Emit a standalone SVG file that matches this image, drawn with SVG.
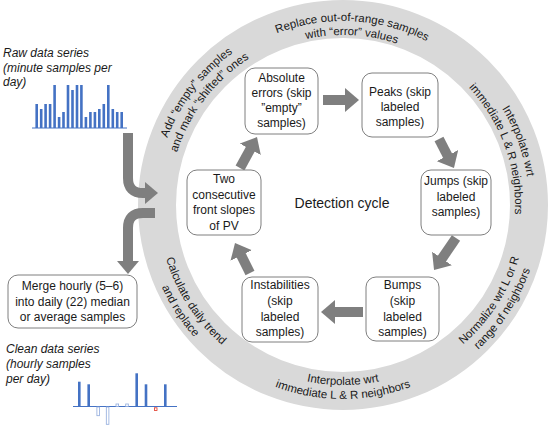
<svg xmlns="http://www.w3.org/2000/svg" xmlns:xlink="http://www.w3.org/1999/xlink" width="550" height="429" viewBox="0 0 550 429">
<style>
text{font-family:"Liberation Sans",Arial,sans-serif;fill:#1a1a1a}
.n{font-size:12px;text-anchor:middle}
.r{font-size:11.5px}
.i{font-size:12px;font-style:italic}
.box{fill:#fff;stroke:#7f7f7f;stroke-width:1}
.arr{stroke:#7f7f7f;stroke-width:10;fill:none;marker-end:url(#ah)}
.big{stroke:#7f7f7f;stroke-width:10;fill:none;marker-end:url(#ah2)}
.bar{fill:#4472c4}
.hb{fill:#fff;stroke:#8faadc;stroke-width:0.8}
</style>
<defs>
<marker id="ah" markerUnits="userSpaceOnUse" markerWidth="14" markerHeight="24" refX="1" refY="12" orient="auto"><path d="M0,0 L14,12 L0,24 z" fill="#7f7f7f"/></marker>
<marker id="ah2" markerUnits="userSpaceOnUse" markerWidth="13" markerHeight="22" refX="1" refY="11" orient="auto"><path d="M0,0 L13,11 L0,22 z" fill="#7f7f7f"/></marker>
<path id="t1" d="M188.7,104.8 A184,184 0 0 1 506.9,121.5"/>
<path id="t2" d="M200.4,112.4 A170,170 0 0 1 494.5,127.8"/>
<path id="l1" d="M169.3,276.9 A188,188 0 0 1 367.5,18.6"/>
<path id="l2" d="M182.2,271.6 A174,174 0 0 1 365.7,32.5"/>
<path id="r1" d="M375.3,21.8 A186,186 0 0 1 485.5,324.6"/>
<path id="r2" d="M372.9,35.6 A172,172 0 0 1 474.8,315.6"/>
<path id="br1" d="M333.4,388.7 A184,184 0 0 0 506.9,121.5"/>
<path id="br2" d="M332.6,402.7 A198,198 0 0 0 519.4,115.1"/>
<path id="b1" d="M187.1,295 A180,180 0 0 0 498.9,295"/>
<path id="b2" d="M175,302 A194,194 0 0 0 511,302"/>
<path id="ll1" d="M178.2,121 A185,185 0 0 0 352.7,389.7"/>
<path id="ll2" d="M165.7,114.7 A199,199 0 0 0 353.4,403.7"/>
</defs>
<rect width="550" height="429" fill="#fff"/>
<g id="ring">
<circle cx="343" cy="205" r="186" fill="none" stroke="#d9d9d9" stroke-width="38"/>
<text class="r"><textPath href="#t1" startOffset="50%" text-anchor="middle">Replace out-of-range samples</textPath></text>
<text class="r"><textPath href="#t2" startOffset="50%" text-anchor="middle">with “error” values</textPath></text>
<text class="r"><textPath href="#l1" startOffset="50%" text-anchor="middle">Add “empty” samples</textPath></text>
<text class="r"><textPath href="#l2" startOffset="50%" text-anchor="middle">and mark “shifted” ones</textPath></text>
<text class="r"><textPath href="#r1" startOffset="50%" text-anchor="middle">Interpolate wrt</textPath></text>
<text class="r"><textPath href="#r2" startOffset="50%" text-anchor="middle">immediate L &amp; R neighbors</textPath></text>
<text class="r"><textPath href="#br1" startOffset="50%" text-anchor="middle">Normalize wrt L or R</textPath></text>
<text class="r"><textPath href="#br2" startOffset="50%" text-anchor="middle">range of neighbors</textPath></text>
<text class="r"><textPath href="#b1" startOffset="50%" text-anchor="middle">Interpolate wrt</textPath></text>
<text class="r"><textPath href="#b2" startOffset="50%" text-anchor="middle">immediate L &amp; R neighbors</textPath></text>
<text class="r"><textPath href="#ll1" startOffset="50%" text-anchor="middle">Calculate daily trend</textPath></text>
<text class="r"><textPath href="#ll2" startOffset="50%" text-anchor="middle">and replace</textPath></text>
</g>
<g id="connectors">
<line class="arr" x1="323" y1="100" x2="346" y2="100"/>
<line class="arr" x1="439" y1="139" x2="448" y2="156.5"/>
<line class="arr" x1="456" y1="238" x2="441.4" y2="259.3"/>
<line class="arr" x1="363" y1="312" x2="334" y2="312"/>
<line class="arr" x1="250" y1="273" x2="240.8" y2="254.6"/>
<line class="arr" x1="240" y1="168" x2="250.75" y2="148.4"/>
<path class="big" d="M128,133 V178 Q128,193 143,193 H146"/>
<path class="big" d="M155,213 H143 Q128,213 128,228 V262"/>
</g>
<g id="absolute">
<rect class="box" x="245" y="68" width="73" height="66" rx="10"/>
<text class="n" x="281.5" y="82">Absolute</text>
<text class="n" x="281.5" y="97">errors (skip</text>
<text class="n" x="281.5" y="112">”empty”</text>
<text class="n" x="281.5" y="127">samples)</text>
</g>
<g id="peaks">
<rect class="box" x="362" y="73" width="76" height="64" rx="10"/>
<text class="n" x="400" y="96">Peaks (skip</text>
<text class="n" x="400" y="111">labeled</text>
<text class="n" x="400" y="126">samples)</text>
</g>
<g id="jumps">
<rect class="box" x="421" y="170" width="70" height="65" rx="10"/>
<text class="n" x="456" y="185">Jumps (skip</text>
<text class="n" x="456" y="200.5">labeled</text>
<text class="n" x="456" y="216">samples)</text>
</g>
<g id="bumps">
<rect class="box" x="366" y="277" width="73" height="64" rx="10"/>
<text class="n" x="402.5" y="289">Bumps</text>
<text class="n" x="402.5" y="305">(skip</text>
<text class="n" x="402.5" y="320.5">labeled</text>
<text class="n" x="402.5" y="336">samples)</text>
</g>
<g id="instabilities">
<rect class="box" x="242" y="277" width="76" height="65" rx="10"/>
<text class="n" x="280" y="289">Instabilities</text>
<text class="n" x="280" y="305">(skip</text>
<text class="n" x="280" y="320.5">labeled</text>
<text class="n" x="280" y="336">samples)</text>
</g>
<g id="two-slopes">
<rect class="box" x="187" y="170" width="74" height="65" rx="10"/>
<text class="n" x="224" y="183">Two</text>
<text class="n" x="224" y="198.5">consecutive</text>
<text class="n" x="224" y="214">front slopes</text>
<text class="n" x="224" y="229.5">of PV</text>
</g>
<g id="detection">
<text x="342" y="208" style="font-size:14px;text-anchor:middle">Detection cycle</text>
</g>
<g id="merge">
<rect class="box" x="8" y="275" width="129" height="53" rx="10"/>
<text class="n" x="72.5" y="290">Merge hourly (5–6)</text>
<text class="n" x="72.5" y="305.5">into daily (22) median</text>
<text class="n" x="72.5" y="321">or average samples</text>
</g>
<g id="raw">
<text class="i" x="3" y="56.5">Raw data series</text>
<text class="i" x="3" y="71.5">(minute samples per</text>
<text class="i" x="3" y="86">day)</text>
<g>
<rect class="bar" x="35.4" y="104" width="2.6" height="24"/>
<rect class="bar" x="39.9" y="109" width="2.6" height="19"/>
<rect class="bar" x="44.3" y="104" width="2.6" height="24"/>
<rect class="bar" x="48.8" y="104" width="2.6" height="24"/>
<rect class="bar" x="53.3" y="85" width="2.6" height="43"/>
<rect class="bar" x="57.8" y="117" width="2.6" height="11"/>
<rect class="bar" x="62.2" y="112" width="2.6" height="16"/>
<rect class="bar" x="66.7" y="85" width="2.6" height="43"/>
<rect class="bar" x="71.2" y="90" width="2.6" height="38"/>
<rect class="bar" x="75.7" y="85" width="2.6" height="43"/>
<rect class="bar" x="80.1" y="85" width="2.6" height="43"/>
<rect class="bar" x="84.6" y="117" width="2.6" height="11"/>
<rect class="bar" x="89.1" y="112" width="2.6" height="16"/>
<rect class="bar" x="93.6" y="112" width="2.6" height="16"/>
<rect class="bar" x="98" y="109" width="2.6" height="19"/>
<rect class="bar" x="102.5" y="104" width="2.6" height="24"/>
<rect class="bar" x="107" y="85" width="2.6" height="43"/>
<rect class="bar" x="111.5" y="109" width="2.6" height="19"/>
<rect class="bar" x="115.9" y="112" width="2.6" height="16"/>
<rect class="bar" x="120.4" y="112" width="2.6" height="16"/>
<line x1="32" y1="128" x2="127" y2="128" stroke="#4472c4" stroke-width="1"/>
</g>
</g>
<g id="clean">
<text class="i" x="6" y="352.5">Clean data series</text>
<text class="i" x="6" y="367.5">(hourly samples</text>
<text class="i" x="6" y="382.5">per day)</text>
<line x1="73" y1="406.5" x2="177" y2="406.5" stroke="#4472c4" stroke-width="1"/>
<rect class="bar" x="78" y="381.7" width="2.6" height="24.8"/>
<rect class="bar" x="87.4" y="384.3" width="2.6" height="22.2"/>
<rect class="hb" x="96.9" y="407" width="2.6" height="8.7"/>
<rect class="hb" x="106.3" y="407" width="2.6" height="17.3"/>
<rect class="hb" x="116" y="404" width="2.6" height="2.5"/>
<rect class="hb" x="125.7" y="404" width="2.6" height="2.5"/>
<rect class="bar" x="135.4" y="373.3" width="2.6" height="33.2"/>
<rect class="bar" x="144.7" y="384.3" width="2.6" height="22.2"/>
<rect x="154.4" y="407.8" width="2.6" height="2.6" fill="#fff" stroke="#e03020" stroke-width="0.8"/>
<rect class="bar" x="164" y="384.3" width="2.6" height="22.2"/>
</g>
</svg>
